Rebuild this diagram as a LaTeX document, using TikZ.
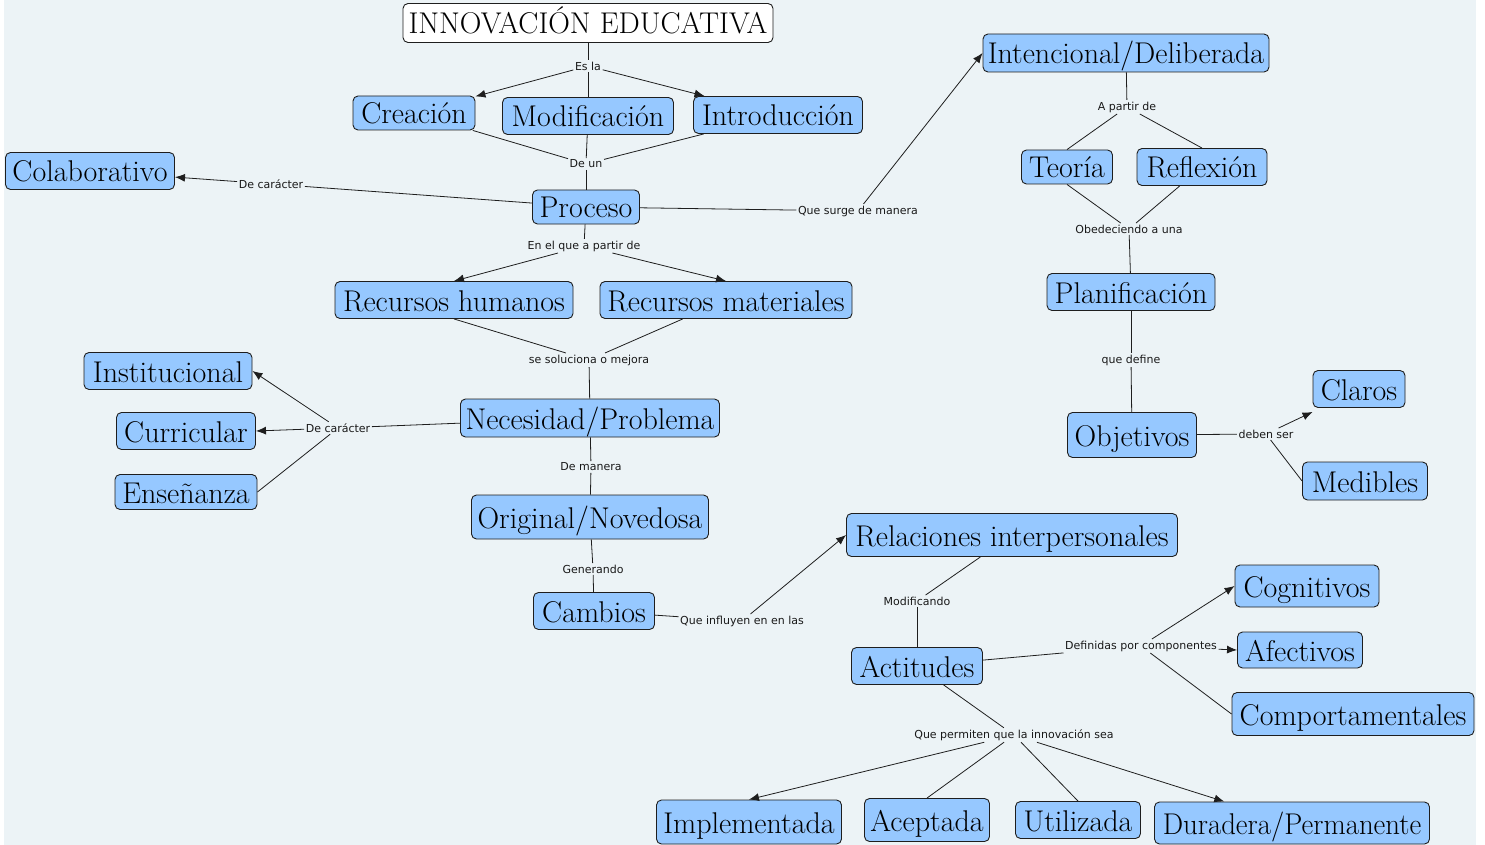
\documentclass[tikz,border=0pt]{standalone}
\usepackage{fontspec}
\usepackage{graphicx}
\newfontfamily\labfont{DejaVu Sans}
\usetikzlibrary{arrows.meta}
\definecolor{bg}{RGB}{236,243,246}
\definecolor{nodeblue}{RGB}{150,200,255}
\definecolor{edgec}{RGB}{30,30,30}
\tikzset{
 concept/.style={draw=edgec, fill=nodeblue, rounded corners=5pt, line width=0.9pt, inner sep=0pt,
   font=\fontsize{30}{33}\selectfont, text height=24pt, text depth=2pt, align=center},
 link/.style={font=\labfont\fontsize{11}{13}\selectfont, inner sep=1.5pt, text=black!90},
 conn/.style={draw=edgec, line width=0.8pt},
 arr/.style={conn, -{Latex[length=10pt,width=8pt]}},
}
\newcommand{\cn}[6]{\node[concept, minimum width=#4pt, minimum height=#5pt] (#1) at (#2,#3) {#6};}
\begin{document}
\begin{tikzpicture}[x=1pt,y=-1pt]
\useasboundingbox (0,0) rectangle (1485,845);
\fill[bg] (4,0) rectangle (1476,845);

% concepts
\node[concept, fill=white, minimum width=370pt, minimum height=39pt] (innov) at (588,23) {INNOVACIÓN EDUCATIVA};
\cn{creacion}{414}{113}{122}{34}{Creación}
\cn{modif}{588}{116}{171}{37}{Modificación}
\cn{intro}{778}{115}{169}{37}{Introducción}
\cn{colab}{90}{171}{169}{37}{Colaborativo}
\cn{proceso}{586}{207}{107}{34}{Proceso}
\cn{intenc}{1126}{53}{286}{38}{Intencional/Deliberada}
\cn{teoria}{1067}{167}{91}{34}{Teoría}
\cn{reflex}{1202}{167}{130}{37}{Reflexión}
\cn{planif}{1131}{292}{168}{37}{Planificación}
\cn{objet}{1132}{435}{129}{45}{Objetivos}
\cn{claros}{1359}{389}{92}{37}{Claros}
\cn{medib}{1365}{481}{125}{38}{Medibles}
\cn{rh}{454}{300}{238}{37}{Recursos humanos}
\cn{rm}{726}{300}{252}{37}{Recursos materiales}
\cn{instit}{168}{371}{168}{37}{Institucional}
\cn{curric}{186}{431}{139}{37}{Curricular}
\cn{ensen}{186}{492}{142}{35}{Enseñanza}
\cn{neces}{590}{418}{259}{38}{Necesidad/Problema}
\cn{orig}{590}{517}{237}{44}{Original/Novedosa}
\cn{cambios}{594}{611}{121}{37}{Cambios}
\cn{relac}{1012}{535}{331}{43}{Relaciones interpersonales}
\cn{actit}{917}{666}{131}{37}{Actitudes}
\cn{cogn}{1307}{586}{144}{42}{Cognitivos}
\cn{afect}{1300}{650}{125}{36}{Afectivos}
\cn{comport}{1353}{714}{242}{43}{Comportamentales}
\cn{implem}{749}{822}{185}{44}{Implementada}
\cn{acept}{927}{820}{125}{43}{Aceptada}
\cn{utiliz}{1078}{820}{125}{37}{Utilizada}
\cn{durad}{1292}{823}{275}{42}{\scalebox{0.96}[1]{Duradera/Permanente}}

% linking phrases
\node[link] (esla) at (588,66) {Es la};
\node[link] (deun) at (586,164) {De un};
\node[link] (dec1) at (271,184) {De carácter};
\node[link] (surge) at (858,211) {Que surge de manera};
\node[link] (enelque) at (584,246) {En el que a partir de};
\node[link] (soluc) at (589,360) {se soluciona o mejora};
\node[link] (dec2) at (338,428) {De carácter};
\node[link] (demanera) at (591,467) {De manera};
\node[link] (generando) at (593,569) {Generando};
\node[link] (influyen) at (742,621) {Que influyen en en las};
\node[link] (apartir) at (1127,107) {A partir de};
\node[link] (obedec) at (1129,229) {Obedeciendo a una};
\node[link] (quedef) at (1131,360) {que define};
\node[link] (debenser) at (1266,434) {deben ser};
\node[link] (modificando) at (917,601) {Modificando};
\node[link] (definidas) at (1141,646) {Definidas por componentes};
\node[link] (permiten) at (1014,735) {Que permiten que la innovación sea};

% connectors
\draw[conn] (innov) -- (esla);
\draw[arr] (esla) -- (creacion);
\draw[conn] (esla) -- (modif);
\draw[arr] (esla) -- (intro);
\draw[conn] (creacion) -- (deun);
\draw[conn] (modif) -- (deun);
\draw[conn] (intro) -- (deun);
\draw[conn] (deun) -- (proceso);
\draw[conn] (proceso) -- (dec1);
\draw[arr] (dec1) -- (colab);
\draw[conn] (proceso) -- (surge);
\draw[arr] (surge) -- (intenc.west);
\draw[conn] (proceso) -- (enelque);
\draw[arr] (enelque) -- (rh.north);
\draw[arr] (enelque) -- (rm.north);
\draw[conn] (rh.south) -- (soluc);
\draw[conn] (rm) -- (soluc);
\draw[conn] (soluc) -- (neces);
\draw[conn] (neces) -- (dec2);
\draw[arr] (dec2) -- (instit.east);
\draw[arr] (dec2) -- (curric.east);
\draw[conn] (dec2) -- (ensen.east);
\draw[conn] (neces) -- (demanera);
\draw[conn] (demanera) -- (orig);
\draw[conn] (orig) -- (generando);
\draw[conn] (generando) -- (cambios);
\draw[conn] (cambios) -- (influyen);
\draw[arr] (influyen) -- (relac.west);
\draw[conn] (relac) -- (modificando);
\draw[conn] (modificando) -- (actit);
\draw[conn] (actit) -- (definidas);
\draw[arr] (definidas) -- (cogn.west);
\draw[arr] (definidas) -- (afect.west);
\draw[conn] (definidas) -- (comport.west);
\draw[conn] (actit) -- (permiten);
\draw[arr] (permiten) -- (implem.north);
\draw[conn] (permiten) -- (acept.north);
\draw[conn] (permiten) -- (utiliz.north);
\draw[arr] (permiten) -- (durad);
\draw[conn] (intenc) -- (apartir);
\draw[conn] (apartir) -- (teoria.north);
\draw[conn] (apartir) -- (reflex.north);
\draw[conn] (teoria.south) -- (obedec);
\draw[conn] (reflex) -- (obedec);
\draw[conn] (obedec) -- (planif);
\draw[conn] (planif) -- (quedef);
\draw[conn] (quedef) -- (objet);
\draw[conn] (objet) -- (debenser);
\draw[arr] (debenser) -- ([yshift=-4pt]claros.south west);
\draw[conn] (debenser) -- (medib.west);
\end{tikzpicture}
\end{document}
